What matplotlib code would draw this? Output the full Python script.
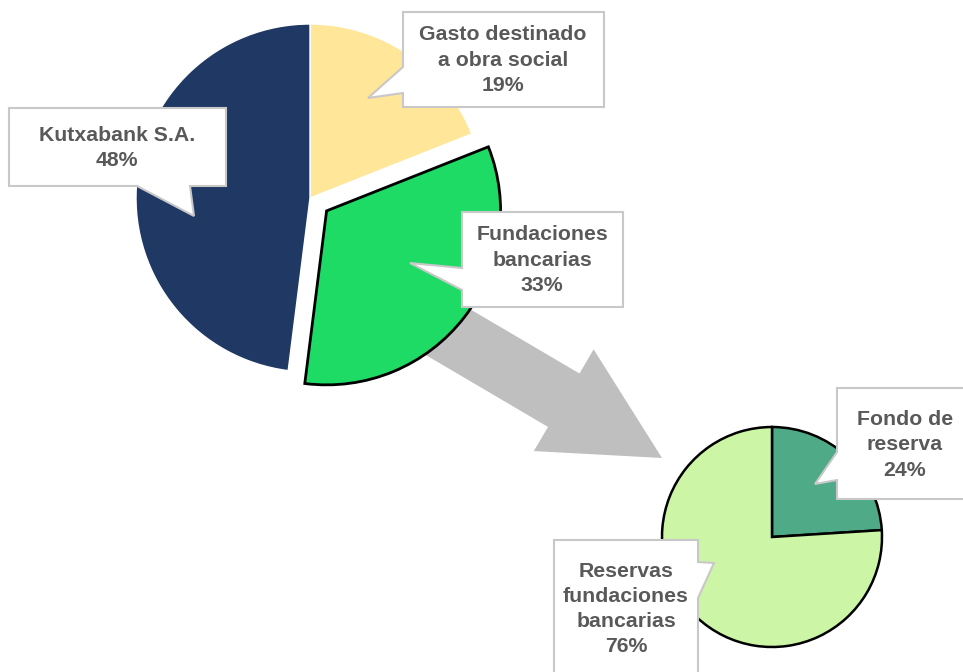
import matplotlib
matplotlib.use('Agg')
import matplotlib.pyplot as plt
from matplotlib.patches import Polygon, FancyArrow

plt.rcParams['font.family'] = ['Liberation Sans', 'DejaVu Sans']

# reparto principal
grupo_labels = ['Gasto destinado\na obra social', 'Fundaciones\nbancarias', 'Kutxabank S.A.']
grupo_pct = [19, 33, 48]
grupo_colors = ['#FFE699', '#1EDB66', '#203864']

# detalle de las fundaciones bancarias
fund_labels = ['Fondo de\nreserva', 'Reservas\nfundaciones\nbancarias']
fund_pct = [24, 76]
fund_colors = ['#4FAA88', '#CCF5A6']

W, H = 963, 672
fig = plt.figure(figsize=(W / 100, H / 100), dpi=100)
ax = fig.add_axes([0, 0, 1, 1])

TXT = '#595959'
BORDE = '#C8C8C8'


def callout(box, side, a, b, tip, center, text):
    # caja con pico, todo en pixeles de pantalla (y hacia abajo)
    x0, y0, x1, y1 = box
    if side == 'left':
        pts = [(x0, y0), (x1, y0), (x1, y1), (x0, y1), (x0, b), tip, (x0, a)]
    elif side == 'right':
        pts = [(x0, y0), (x1, y0), (x1, a), tip, (x1, b), (x1, y1), (x0, y1)]
    else:
        pts = [(x0, y0), (x1, y0), (x1, y1), (b, y1), tip, (a, y1), (x0, y1)]
    ax.add_patch(Polygon(pts, closed=True, facecolor='white', edgecolor=BORDE,
                         lw=1.5, zorder=5))
    ax.text(center[0], center[1], text, ha='center', va='center', color=TXT,
            fontsize=15.3, fontweight='bold', linespacing=1.42, zorder=6)


# flecha gris por debajo de las tartas
tip = (662, 458)
d = (0.862, 0.507)
L = 300
ax.add_patch(FancyArrow(tip[0] - L * d[0], tip[1] - L * d[1], L * d[0], L * d[1],
                        width=62, head_width=118, head_length=114,
                        length_includes_head=True, color='#BFBFBF', lw=0, zorder=0.5))

# eje y invertido: startangle=-90 y counterclock=True => empieza arriba, sentido horario
w1, _ = ax.pie(grupo_pct, colors=grupo_colors, center=(310, 198), radius=174,
               startangle=-90, counterclock=True, explode=[0, 21, 0],
               wedgeprops=dict(edgecolor='white', linewidth=1))
w1[1].set_edgecolor('black')
w1[1].set_linewidth(2)
w1[1].set_zorder(2)

w2, _ = ax.pie(fund_pct, colors=fund_colors, center=(772, 537), radius=110,
               startangle=-90, counterclock=True,
               wedgeprops=dict(edgecolor='black', linewidth=1.8))

pct = lambda v: f'{v}%'
callout((403, 12, 604, 107), 'left', 67, 93, (368, 98), (503, 60),
        grupo_labels[0] + '\n' + pct(grupo_pct[0]))
callout((462, 212, 623, 307), 'left', 268, 290, (410, 263), (542, 260),
        grupo_labels[1] + '\n' + pct(grupo_pct[1]))
callout((9, 108, 226, 186), 'bottom', 137, 190, (194, 216), (117, 148),
        grupo_labels[2] + '\n' + pct(grupo_pct[2]))
callout((837, 388, 975, 499), 'left', 452, 480, (815, 484), (905, 445),
        fund_labels[0] + '\n' + pct(fund_pct[0]))
callout((554, 540, 698, 690), 'right', 562, 598, (714, 563), (626, 609),
        fund_labels[1] + '\n' + pct(fund_pct[1]))

ax.set_xlim(0, W)
ax.set_ylim(H, 0)
ax.set_aspect('equal')
ax.axis('off')

fig.savefig('out.png', dpi=100, facecolor='white')
